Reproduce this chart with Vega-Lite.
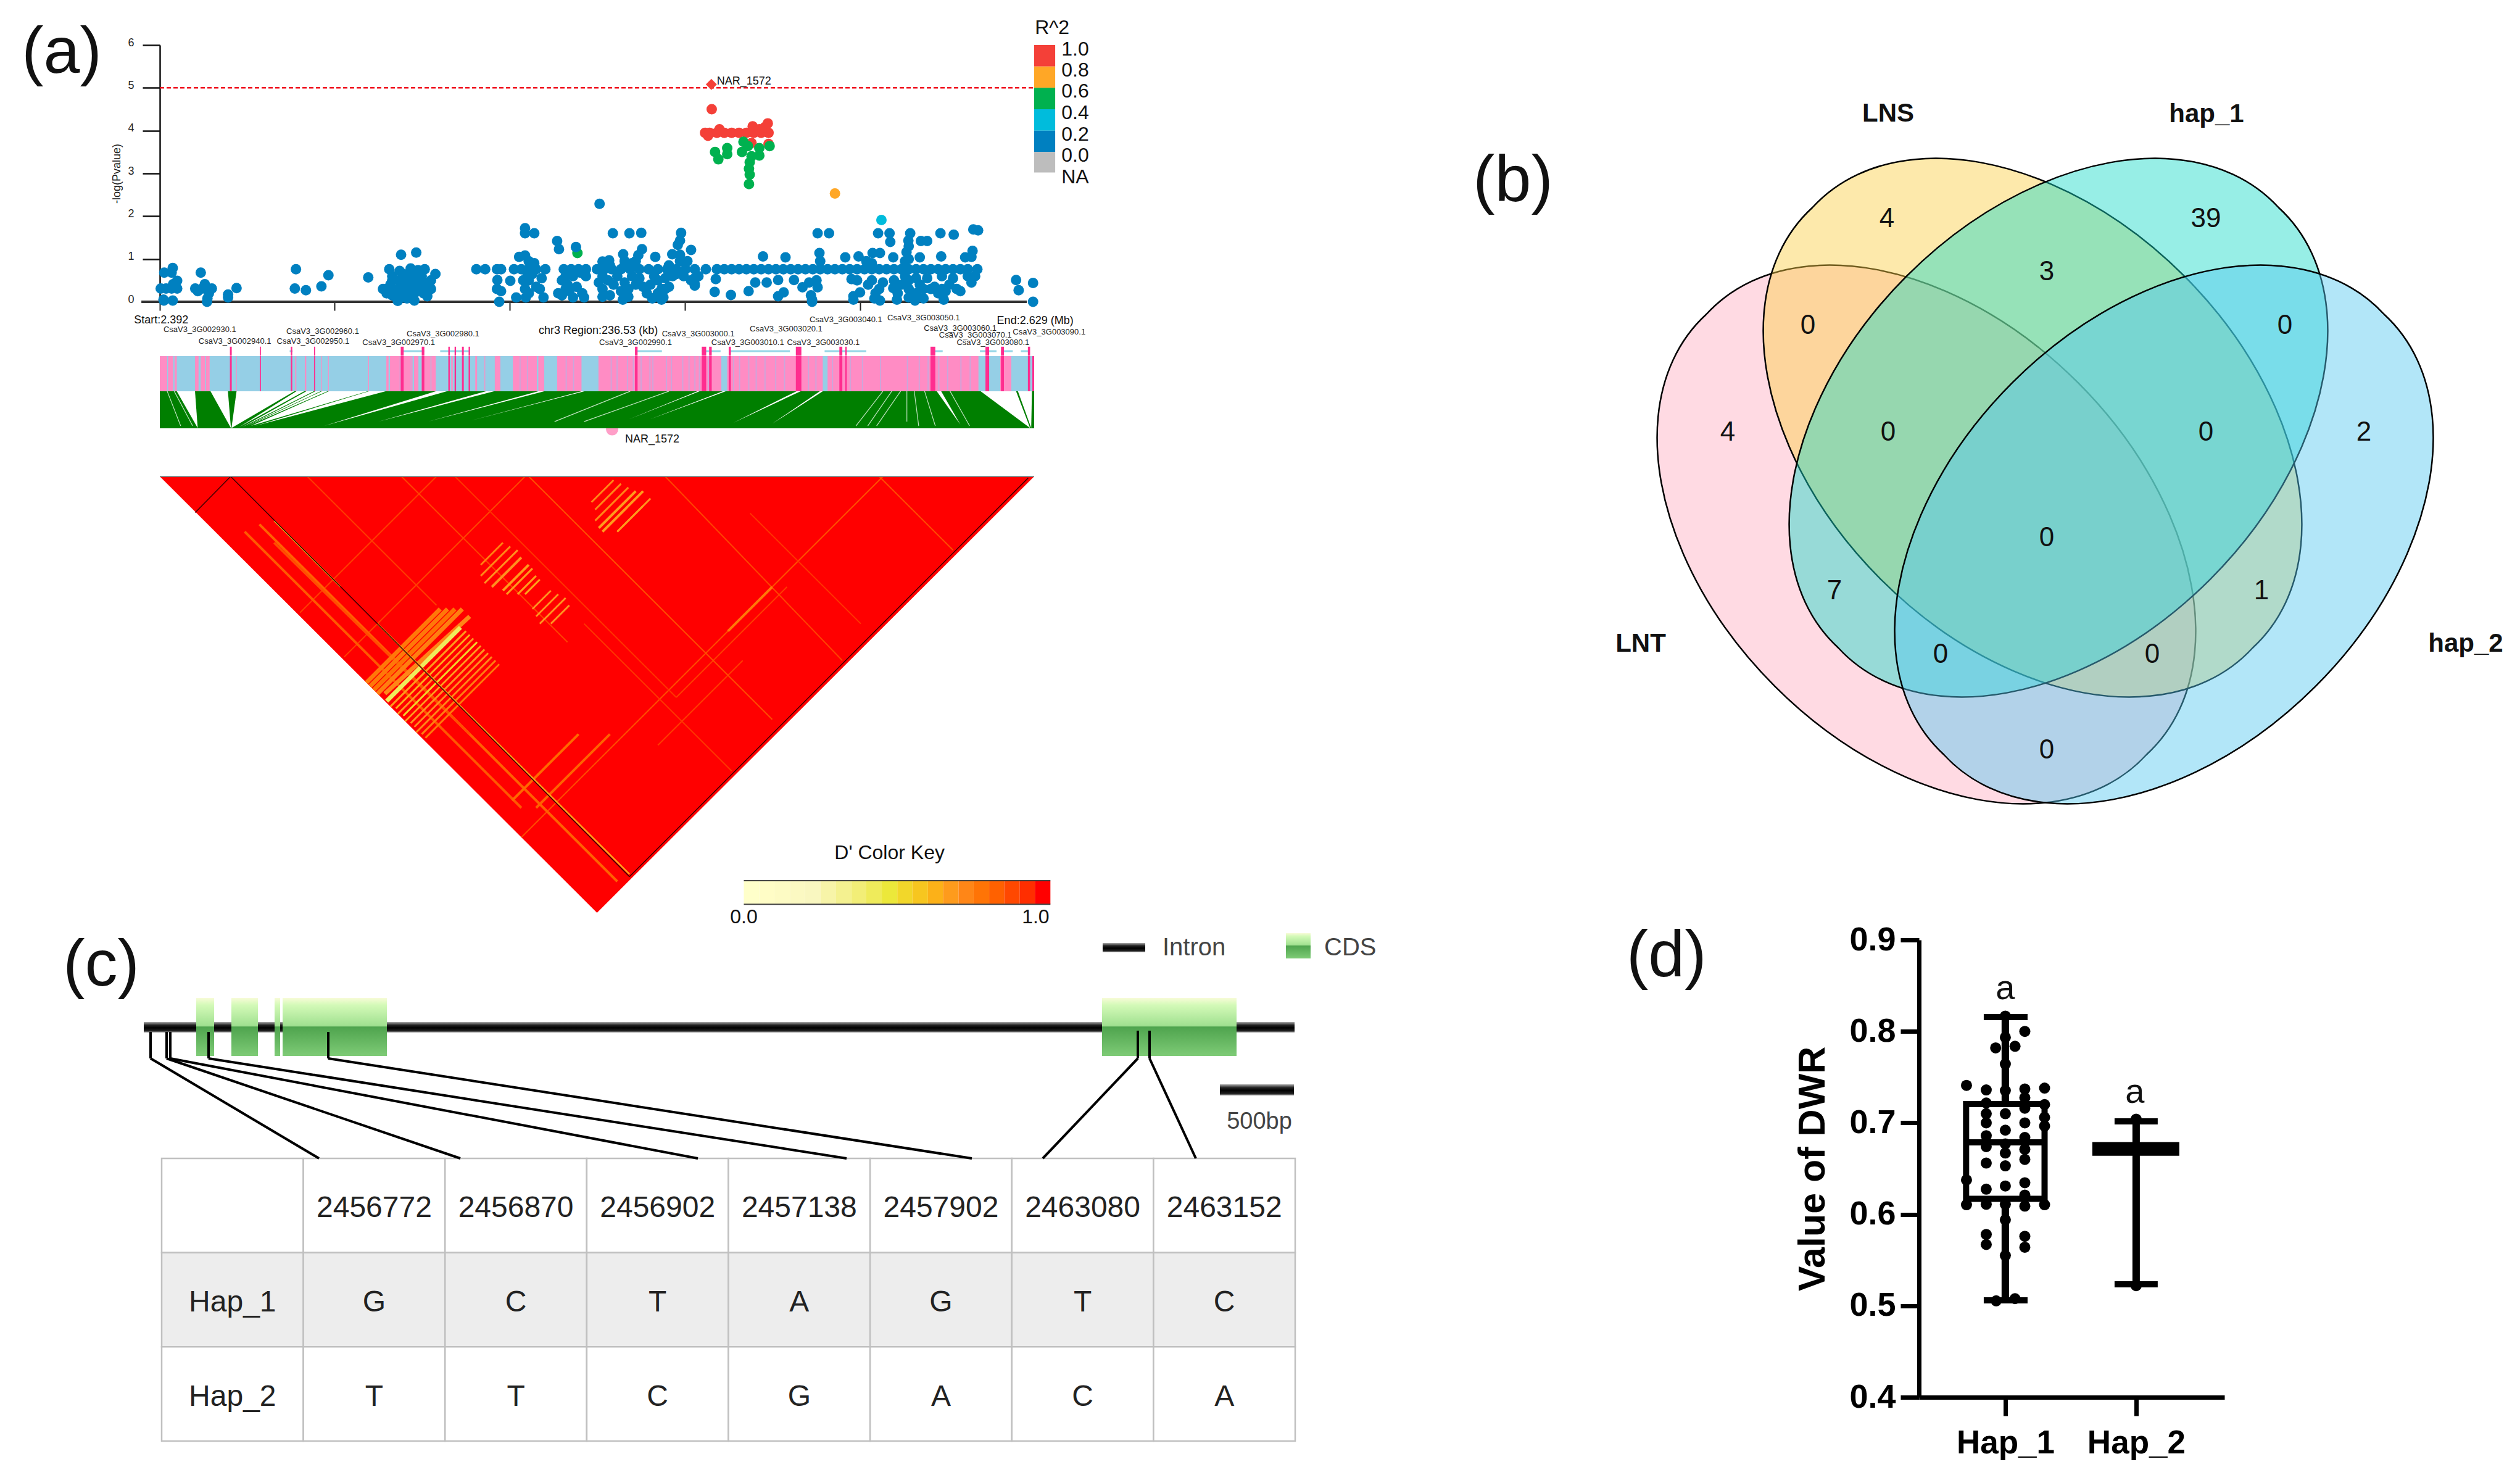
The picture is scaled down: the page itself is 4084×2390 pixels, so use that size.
{
"$schema":"https://vega.github.io/schema/vega-lite/v6.json",
"width":4084,"height":2390,"padding":0,"autosize":{"type":"none"},"background":"white",
"config":{"view":{"stroke":null},"text":{"font":"Liberation Sans"},"axis":{"grid":false,"labelFont":"Liberation Sans","titleFont":"Liberation Sans"}},
"resolve":{"scale":{"x":"independent","y":"independent","fill":"independent","color":"independent","shape":"independent"},"axis":{"x":"independent","y":"independent"}},
"layer":[
{"encoding":{
"x":{"field":"pos","type":"quantitative","title":null,"scale":{"domain":[0,237],"range":[259,1676],"nice":false,"zero":false},"axis":{"orient":"bottom","offset":-1901,"values":[0,47.4,94.9,142.3,189.8],"labels":false,"domain":false,"tickSize":14,"tickWidth":2,"tickColor":"#222"}},
"y":{"field":"logp","type":"quantitative","title":"-log(Pvalue)","scale":{"domain":[0,6],"range":[489,73],"nice":false,"zero":false},"axis":{"orient":"left","offset":-259,"values":[0,1,2,3,4,5,6],"format":"d","tickSize":28,"tickWidth":2.5,"tickColor":"#111","domainWidth":2.5,"domainColor":"#111","labelFontSize":18,"labelPadding":14,"labelColor":"#222","labelOffset":-4,"titleFontSize":18,"titleFontWeight":"normal","titleColor":"#222","titlePadding":8}}},
"layer":[
{"mark":{"type":"rule","stroke":"#333","strokeWidth":4},"data":{"values":[{"pos":-5,"pos2":235,"logp":0}]},"encoding":{"x2":{"field":"pos2"}}},
{"mark":{"type":"rule","stroke":"#f01020","strokeWidth":2.5,"strokeDash":[7,4]},"data":{"values":[{"pos":0,"pos2":237,"logp":5}]},"encoding":{"x2":{"field":"pos2"}}},
{"mark":{"type":"circle","size":289,"opacity":1},"data":{"values":[
{"pos":113.2,"logp":1.14,"r2":0.5},
{"pos":1.2,"logp":0.68,"r2":0.1},{"pos":3.5,"logp":0.79,"r2":0.1},{"pos":3.2,"logp":0.68,"r2":0.1},{"pos":4.7,"logp":0.49,"r2":0.1},{"pos":3.6,"logp":0.41,"r2":0.1},{"pos":0.25,"logp":0.31,"r2":0.1},{"pos":1.7,"logp":0.31,"r2":0.1},{"pos":3.2,"logp":0.31,"r2":0.1},{"pos":4.7,"logp":0.31,"r2":0.1},{"pos":1.1,"logp":0.03,"r2":0.1},{"pos":3.5,"logp":0.03,"r2":0.1},{"pos":1,"logp":0.05,"r2":0.1},{"pos":11.1,"logp":0.68,"r2":0.1},{"pos":9.6,"logp":0.31,"r2":0.1},{"pos":10.3,"logp":0.25,"r2":0.1},{"pos":12.2,"logp":0.41,"r2":0.1},{"pos":14.1,"logp":0.31,"r2":0.1},{"pos":12.9,"logp":0.08,"r2":0.1},{"pos":12.8,"logp":0,"r2":0.1},{"pos":13.3,"logp":0.2,"r2":0.1},{"pos":18.5,"logp":0.17,"r2":0.1},{"pos":18.5,"logp":0.1,"r2":0.1},{"pos":20.8,"logp":0.32,"r2":0.1},{"pos":11.5,"logp":0.31,"r2":0.1},
{"pos":36.9,"logp":0.76,"r2":0.1},{"pos":36.6,"logp":0.31,"r2":0.1},{"pos":39.6,"logp":0.27,"r2":0.1},{"pos":43.8,"logp":0.36,"r2":0.1},{"pos":45.7,"logp":0.62,"r2":0.1},{"pos":56.5,"logp":0.57,"r2":0.1},
{"pos":65.4,"logp":1.1,"r2":0.1},{"pos":69.5,"logp":1.15,"r2":0.1},{"pos":62.2,"logp":0.76,"r2":0.1},{"pos":71.8,"logp":0.76,"r2":0.1},{"pos":74.7,"logp":0.65,"r2":0.1},{"pos":65,"logp":0.72,"r2":0.1},{"pos":68,"logp":0.78,"r2":0.1},{"pos":70,"logp":0.74,"r2":0.1},{"pos":63,"logp":0.6,"r2":0.1},{"pos":66,"logp":0.65,"r2":0.1},{"pos":68.5,"logp":0.65,"r2":0.1},{"pos":71,"logp":0.6,"r2":0.1},{"pos":63,"logp":0.5,"r2":0.1},{"pos":65,"logp":0.5,"r2":0.1},{"pos":67,"logp":0.5,"r2":0.1},{"pos":69,"logp":0.5,"r2":0.1},{"pos":71,"logp":0.52,"r2":0.1},{"pos":73.5,"logp":0.5,"r2":0.1},{"pos":60.5,"logp":0.3,"r2":0.1},{"pos":61.5,"logp":0.3,"r2":0.1},{"pos":63,"logp":0.3,"r2":0.1},{"pos":64.5,"logp":0.3,"r2":0.1},{"pos":66,"logp":0.3,"r2":0.1},{"pos":68,"logp":0.3,"r2":0.1},{"pos":70,"logp":0.3,"r2":0.1},{"pos":72,"logp":0.3,"r2":0.1},{"pos":73.5,"logp":0.3,"r2":0.1},{"pos":61.5,"logp":0.2,"r2":0.1},{"pos":63,"logp":0.15,"r2":0.1},{"pos":65,"logp":0.2,"r2":0.1},{"pos":67,"logp":0.18,"r2":0.1},{"pos":69,"logp":0.2,"r2":0.1},{"pos":71.5,"logp":0.2,"r2":0.1},{"pos":72.5,"logp":0.13,"r2":0.1},{"pos":64.5,"logp":0.02,"r2":0.1},{"pos":67,"logp":0.08,"r2":0.1},{"pos":69,"logp":0.03,"r2":0.1},{"pos":66,"logp":0.1,"r2":0.1},{"pos":73,"logp":0.4,"r2":0.1},{"pos":62.5,"logp":0.4,"r2":0.1},{"pos":66,"logp":0.4,"r2":0.1},{"pos":68.5,"logp":0.4,"r2":0.1},{"pos":70.5,"logp":0.4,"r2":0.1},
{"pos":85.8,"logp":0.76,"r2":0.1},{"pos":88.2,"logp":0.76,"r2":0.1},{"pos":91.4,"logp":0.76,"r2":0.1},{"pos":92.5,"logp":0.76,"r2":0.1},{"pos":91.5,"logp":0.51,"r2":0.1},{"pos":91.4,"logp":0.3,"r2":0.1},{"pos":92.5,"logp":0.25,"r2":0.1},{"pos":92,"logp":0,"r2":0.1},{"pos":95,"logp":0.49,"r2":0.1},
{"pos":99,"logp":1.72,"r2":0.1},{"pos":99,"logp":1.6,"r2":0.1},{"pos":97.4,"logp":1.05,"r2":0.1},{"pos":99,"logp":1.08,"r2":0.1},{"pos":101.5,"logp":1.6,"r2":0.1},{"pos":96.6,"logp":0.1,"r2":0.1},{"pos":99.2,"logp":0.1,"r2":0.1},{"pos":99,"logp":0.3,"r2":0.1},{"pos":98.5,"logp":0.5,"r2":0.1},{"pos":100,"logp":0.2,"r2":0.1},{"pos":100,"logp":0.5,"r2":0.1},{"pos":101,"logp":0.65,"r2":0.1},{"pos":102,"logp":0.35,"r2":0.1},{"pos":103,"logp":0.3,"r2":0.1},{"pos":103.5,"logp":0.55,"r2":0.1},{"pos":104,"logp":0.1,"r2":0.1},{"pos":101.5,"logp":0.9,"r2":0.1},{"pos":100,"logp":0.95,"r2":0.1},{"pos":99.5,"logp":0.7,"r2":0.1},
{"pos":107.7,"logp":1.42,"r2":0.1},{"pos":108.2,"logp":1.23,"r2":0.1},{"pos":112.8,"logp":1.28,"r2":0.1},{"pos":109,"logp":0.5,"r2":0.1},{"pos":110,"logp":0.3,"r2":0.1},{"pos":108,"logp":0.2,"r2":0.1},{"pos":109,"logp":0.15,"r2":0.1},{"pos":111,"logp":0.25,"r2":0.1},{"pos":112,"logp":0.1,"r2":0.1},{"pos":110.5,"logp":0.4,"r2":0.1},{"pos":113,"logp":0.35,"r2":0.1},{"pos":114.5,"logp":0.2,"r2":0.1},{"pos":115,"logp":0.1,"r2":0.1},{"pos":115.5,"logp":0.6,"r2":0.1},{"pos":114,"logp":0.68,"r2":0.1},{"pos":112,"logp":0.6,"r2":0.1},{"pos":110,"logp":0.6,"r2":0.1},
{"pos":119.2,"logp":2.29,"r2":0.1},{"pos":122.8,"logp":1.6,"r2":0.1},{"pos":127.3,"logp":1.6,"r2":0.1},{"pos":130.5,"logp":1.61,"r2":0.1},{"pos":141.3,"logp":1.61,"r2":0.1},{"pos":141,"logp":1.43,"r2":0.1},{"pos":140.4,"logp":1.33,"r2":0.1},{"pos":144,"logp":1.21,"r2":0.1},{"pos":130.7,"logp":1.23,"r2":0.1},{"pos":125.6,"logp":1.11,"r2":0.1},{"pos":120,"logp":0.94,"r2":0.1},{"pos":121.8,"logp":0.97,"r2":0.1},{"pos":134.3,"logp":1.05,"r2":0.1},{"pos":138.9,"logp":1.11,"r2":0.1},{"pos":129.7,"logp":1.09,"r2":0.1},{"pos":126,"logp":0.95,"r2":0.1},{"pos":128,"logp":0.9,"r2":0.1},{"pos":126,"logp":0.85,"r2":0.1},{"pos":120,"logp":0.6,"r2":0.1},{"pos":122,"logp":0.85,"r2":0.1},{"pos":129,"logp":0.95,"r2":0.1},{"pos":141,"logp":1.1,"r2":0.1},{"pos":141,"logp":0.95,"r2":0.1},{"pos":143,"logp":0.95,"r2":0.1},{"pos":138,"logp":0.85,"r2":0.1},
{"pos":119,"logp":0.45,"r2":0.1},{"pos":120,"logp":0.3,"r2":0.1},{"pos":120,"logp":0.12,"r2":0.1},{"pos":122,"logp":0.15,"r2":0.1},{"pos":121.5,"logp":0.5,"r2":0.1},{"pos":123,"logp":0.4,"r2":0.1},{"pos":124,"logp":0.6,"r2":0.1},{"pos":125,"logp":0.25,"r2":0.1},{"pos":125.5,"logp":0.05,"r2":0.1},{"pos":126,"logp":0.45,"r2":0.1},{"pos":127,"logp":0.3,"r2":0.1},{"pos":127,"logp":0.12,"r2":0.1},{"pos":128,"logp":0.6,"r2":0.1},{"pos":129,"logp":0.4,"r2":0.1},{"pos":130,"logp":0.55,"r2":0.1},{"pos":131,"logp":0.35,"r2":0.1},{"pos":132,"logp":0.2,"r2":0.1},{"pos":133,"logp":0.4,"r2":0.1},{"pos":133.5,"logp":0.08,"r2":0.1},{"pos":134,"logp":0.6,"r2":0.1},{"pos":135,"logp":0.5,"r2":0.1},{"pos":135,"logp":0.2,"r2":0.1},{"pos":136,"logp":0.3,"r2":0.1},{"pos":136,"logp":0.05,"r2":0.1},{"pos":136.5,"logp":0.1,"r2":0.1},{"pos":137,"logp":0.55,"r2":0.1},{"pos":137,"logp":0.3,"r2":0.1},{"pos":138,"logp":0.35,"r2":0.1},{"pos":139,"logp":0.6,"r2":0.1},{"pos":140,"logp":0.65,"r2":0.1},{"pos":142,"logp":0.6,"r2":0.1},{"pos":144,"logp":0.5,"r2":0.1},{"pos":145,"logp":0.55,"r2":0.1},{"pos":146,"logp":0.6,"r2":0.1},{"pos":145,"logp":0.42,"r2":0.1},{"pos":145,"logp":0.38,"r2":0.1},
{"pos":150.7,"logp":0.53,"r2":0.1},{"pos":150.4,"logp":0.23,"r2":0.1},{"pos":154.8,"logp":0.16,"r2":0.1},{"pos":159.6,"logp":0.25,"r2":0.1},{"pos":161.4,"logp":0.45,"r2":0.1},{"pos":164.5,"logp":0.45,"r2":0.1},{"pos":167.6,"logp":0.51,"r2":0.1},{"pos":167.6,"logp":0.13,"r2":0.1},{"pos":169.1,"logp":0.22,"r2":0.1},{"pos":171.9,"logp":0.51,"r2":0.1},{"pos":174.2,"logp":0.34,"r2":0.1},{"pos":178.3,"logp":0.34,"r2":0.1},{"pos":176.8,"logp":0.05,"r2":0.1},{"pos":176.8,"logp":0,"r2":0.1},{"pos":176.5,"logp":0.15,"r2":0.1},{"pos":176,"logp":0.45,"r2":0.1},{"pos":178,"logp":0.5,"r2":0.1},
{"pos":163.5,"logp":1.06,"r2":0.1},{"pos":169.6,"logp":1.04,"r2":0.1},{"pos":178.3,"logp":1.6,"r2":0.1},{"pos":181.4,"logp":1.6,"r2":0.1},{"pos":178.8,"logp":1.14,"r2":0.1},{"pos":179,"logp":0.95,"r2":0.1},{"pos":185.8,"logp":1.04,"r2":0.1},{"pos":189.4,"logp":1.06,"r2":0.1},{"pos":193.2,"logp":1.14,"r2":0.1},{"pos":195.2,"logp":1.14,"r2":0.1},{"pos":198.8,"logp":1.04,"r2":0.1},{"pos":194.7,"logp":1.6,"r2":0.1},{"pos":197.8,"logp":1.6,"r2":0.1},{"pos":198,"logp":1.4,"r2":0.1},{"pos":203.4,"logp":1.6,"r2":0.1},{"pos":202.9,"logp":1.43,"r2":0.1},{"pos":202.4,"logp":1.16,"r2":0.1},{"pos":206.3,"logp":1.42,"r2":0.1},{"pos":208,"logp":1.42,"r2":0.1},{"pos":211.6,"logp":1.6,"r2":0.1},{"pos":215.2,"logp":1.57,"r2":0.1},{"pos":220.5,"logp":1.69,"r2":0.1},{"pos":221.8,"logp":1.67,"r2":0.1},{"pos":206,"logp":1.04,"r2":0.1},{"pos":211.8,"logp":1.06,"r2":0.1},{"pos":220.3,"logp":1.19,"r2":0.1},{"pos":218.3,"logp":1.04,"r2":0.1},{"pos":220,"logp":1.05,"r2":0.1},{"pos":203,"logp":1.3,"r2":0.1},{"pos":203,"logp":1,"r2":0.1},{"pos":202,"logp":0.95,"r2":0.1},{"pos":191.5,"logp":0.95,"r2":0.1},{"pos":193,"logp":0.9,"r2":0.1},
{"pos":188,"logp":0.13,"r2":0.1},{"pos":189.8,"logp":0.22,"r2":0.1},{"pos":187.5,"logp":0.53,"r2":0.1},{"pos":189,"logp":0.5,"r2":0.1},{"pos":188,"logp":0.05,"r2":0.1},{"pos":193,"logp":0.5,"r2":0.1},{"pos":193.7,"logp":0.08,"r2":0.1},{"pos":195.2,"logp":0.03,"r2":0.1},{"pos":195,"logp":0.3,"r2":0.1},{"pos":192,"logp":0.4,"r2":0.1},{"pos":194,"logp":0.2,"r2":0.1},{"pos":196,"logp":0.45,"r2":0.1},{"pos":198.8,"logp":0.32,"r2":0.1},{"pos":199.8,"logp":0.05,"r2":0.1},{"pos":199,"logp":0.5,"r2":0.1},{"pos":200,"logp":0.2,"r2":0.1},{"pos":201,"logp":0.4,"r2":0.1},{"pos":202,"logp":0.6,"r2":0.1},{"pos":203,"logp":0.5,"r2":0.1},{"pos":203,"logp":0.3,"r2":0.1},{"pos":203,"logp":0.1,"r2":0.1},{"pos":204.7,"logp":0.03,"r2":0.1},{"pos":205,"logp":0.2,"r2":0.1},{"pos":205,"logp":0.55,"r2":0.1},{"pos":206,"logp":0.4,"r2":0.1},{"pos":207,"logp":0.08,"r2":0.1},{"pos":207,"logp":0.3,"r2":0.1},{"pos":208,"logp":0.55,"r2":0.1},{"pos":209,"logp":0.3,"r2":0.1},{"pos":210,"logp":0.35,"r2":0.1},{"pos":211,"logp":0.2,"r2":0.1},{"pos":212,"logp":0.3,"r2":0.1},{"pos":213,"logp":0.25,"r2":0.1},{"pos":212.5,"logp":0.05,"r2":0.1},{"pos":212,"logp":0.6,"r2":0.1},{"pos":215,"logp":0.55,"r2":0.1},{"pos":216,"logp":0.3,"r2":0.1},{"pos":217,"logp":0.25,"r2":0.1},{"pos":214,"logp":0.4,"r2":0.1},{"pos":220,"logp":0.45,"r2":0.1},{"pos":219,"logp":0.6,"r2":0.1},{"pos":221,"logp":0.6,"r2":0.1},{"pos":232.1,"logp":0.51,"r2":0.1},{"pos":232.8,"logp":0.27,"r2":0.1},{"pos":236.7,"logp":0.44,"r2":0.1},{"pos":236.7,"logp":0,"r2":0.1},
{"pos":96,"logp":0.76,"r2":0.1},{"pos":98,"logp":0.76,"r2":0.1},{"pos":100,"logp":0.76,"r2":0.1},{"pos":102,"logp":0.76,"r2":0.1},{"pos":104.5,"logp":0.76,"r2":0.1},{"pos":109.5,"logp":0.76,"r2":0.1},{"pos":111.5,"logp":0.76,"r2":0.1},{"pos":113.5,"logp":0.76,"r2":0.1},{"pos":115.5,"logp":0.76,"r2":0.1},{"pos":118.5,"logp":0.76,"r2":0.1},{"pos":120.5,"logp":0.76,"r2":0.1},{"pos":122.5,"logp":0.76,"r2":0.1},{"pos":125,"logp":0.76,"r2":0.1},{"pos":127.5,"logp":0.76,"r2":0.1},{"pos":130,"logp":0.76,"r2":0.1},{"pos":132.5,"logp":0.76,"r2":0.1},{"pos":135,"logp":0.76,"r2":0.1},{"pos":137.5,"logp":0.76,"r2":0.1},{"pos":140,"logp":0.76,"r2":0.1},{"pos":142.5,"logp":0.76,"r2":0.1},{"pos":145,"logp":0.76,"r2":0.1},{"pos":148,"logp":0.76,"r2":0.1},{"pos":151,"logp":0.76,"r2":0.1},{"pos":153,"logp":0.76,"r2":0.1},{"pos":155,"logp":0.76,"r2":0.1},{"pos":157,"logp":0.76,"r2":0.1},{"pos":159,"logp":0.76,"r2":0.1},{"pos":161,"logp":0.76,"r2":0.1},{"pos":163,"logp":0.76,"r2":0.1},{"pos":165,"logp":0.76,"r2":0.1},{"pos":167,"logp":0.76,"r2":0.1},{"pos":169,"logp":0.76,"r2":0.1},{"pos":171,"logp":0.76,"r2":0.1},{"pos":173,"logp":0.76,"r2":0.1},{"pos":175,"logp":0.76,"r2":0.1},{"pos":177,"logp":0.76,"r2":0.1},{"pos":179,"logp":0.76,"r2":0.1},{"pos":181,"logp":0.76,"r2":0.1},{"pos":183,"logp":0.76,"r2":0.1},{"pos":185,"logp":0.76,"r2":0.1},{"pos":187,"logp":0.76,"r2":0.1},{"pos":189,"logp":0.76,"r2":0.1},{"pos":191,"logp":0.76,"r2":0.1},{"pos":193,"logp":0.76,"r2":0.1},{"pos":195,"logp":0.76,"r2":0.1},{"pos":197,"logp":0.76,"r2":0.1},{"pos":199,"logp":0.76,"r2":0.1},{"pos":201,"logp":0.76,"r2":0.1},{"pos":203,"logp":0.76,"r2":0.1},{"pos":205,"logp":0.76,"r2":0.1},{"pos":207,"logp":0.76,"r2":0.1},{"pos":209,"logp":0.76,"r2":0.1},{"pos":211,"logp":0.76,"r2":0.1},{"pos":213,"logp":0.76,"r2":0.1},{"pos":215,"logp":0.76,"r2":0.1},{"pos":217,"logp":0.76,"r2":0.1},{"pos":219,"logp":0.76,"r2":0.1},{"pos":221.6,"logp":0.76,"r2":0.1},
{"pos":183,"logp":2.53,"r2":0.7},{"pos":195.6,"logp":1.91,"r2":0.3},
{"pos":149.6,"logp":4.5,"r2":0.9},{"pos":147.8,"logp":3.95,"r2":0.9},{"pos":149,"logp":3.95,"r2":0.9},{"pos":151,"logp":3.95,"r2":0.9},{"pos":153,"logp":3.95,"r2":0.9},{"pos":155,"logp":3.95,"r2":0.9},{"pos":157,"logp":3.95,"r2":0.9},{"pos":159,"logp":3.95,"r2":0.9},{"pos":161,"logp":3.95,"r2":0.9},{"pos":163,"logp":3.95,"r2":0.9},{"pos":165,"logp":3.95,"r2":0.9},{"pos":148.6,"logp":3.88,"r2":0.9},{"pos":151.7,"logp":4.03,"r2":0.9},{"pos":160.7,"logp":4.1,"r2":0.9},{"pos":162.5,"logp":4.03,"r2":0.9},{"pos":164,"logp":4.08,"r2":0.9},{"pos":164.8,"logp":4.17,"r2":0.9},{"pos":160.4,"logp":3.71,"r2":0.9},{"pos":165,"logp":3.69,"r2":0.9},
{"pos":158.2,"logp":3.74,"r2":0.5},{"pos":165.3,"logp":3.64,"r2":0.5},{"pos":150.5,"logp":3.5,"r2":0.5},{"pos":153.8,"logp":3.59,"r2":0.5},{"pos":151.4,"logp":3.33,"r2":0.5},{"pos":153.8,"logp":3.45,"r2":0.5},{"pos":157.8,"logp":3.5,"r2":0.5},{"pos":159.4,"logp":3.64,"r2":0.5},{"pos":162.5,"logp":3.59,"r2":0.5},{"pos":162.5,"logp":3.42,"r2":0.5},{"pos":160.4,"logp":3.4,"r2":0.5},{"pos":159.9,"logp":3.26,"r2":0.5},{"pos":159.7,"logp":3.11,"r2":0.5},{"pos":159.9,"logp":2.97,"r2":0.5},{"pos":159.7,"logp":2.75,"r2":0.5}
]},"encoding":{"color":{"field":"r2","type":"nominal","legend":null,"scale":{"domain":[0.9,0.7,0.5,0.3,0.1,"NA"],"range":["#f44038","#ffa726","#00b14f","#00bcdc","#0080c0","#bdbdbd"]}}}},
{"mark":{"type":"point","shape":"diamond","filled":true,"size":320,"color":"#f44038","opacity":1},"data":{"values":[{"pos":149.5,"logp":5.08}]}},
{"mark":{"type":"rect"},"data":{"values":[{"pos":237,"pos2":242.7,"logp":6,"logp2":5.5,"r2":0.9},{"pos":237,"pos2":242.7,"logp":5.5,"logp2":5,"r2":0.7},{"pos":237,"pos2":242.7,"logp":5,"logp2":4.5,"r2":0.5},{"pos":237,"pos2":242.7,"logp":4.5,"logp2":4,"r2":0.3},{"pos":237,"pos2":242.7,"logp":4,"logp2":3.5,"r2":0.1},{"pos":237,"pos2":242.7,"logp":3.5,"logp2":3.02,"r2":"NA"}]},"encoding":{"x2":{"field":"pos2"},"y2":{"field":"logp2"},"color":{"field":"r2","type":"nominal","legend":null,"scale":{"domain":[0.9,0.7,0.5,0.3,0.1,"NA"],"range":["#f44038","#ffa726","#00b14f","#00bcdc","#0080c0","#bdbdbd"]}}}},
{"mark":{"type":"text","fontSize":32,"align":"left","baseline":"middle","color":"#111"},"data":{"values":[{"pos":244.4,"logp":5.9,"t":"1.0"},{"pos":244.4,"logp":5.41,"t":"0.8"},{"pos":244.4,"logp":4.92,"t":"0.6"},{"pos":244.4,"logp":4.41,"t":"0.4"},{"pos":244.4,"logp":3.91,"t":"0.2"},{"pos":244.4,"logp":3.42,"t":"0.0"},{"pos":244.4,"logp":2.91,"t":"NA"},{"pos":237.2,"logp":6.4,"t":"R^2"}]},"encoding":{"text":{"field":"t"}}},
{"mark":{"type":"circle","size":400,"color":"#ff9fc8","opacity":1},"data":{"values":[{"pos":122.6,"logp":-2.98}]}},
{"mark":{"type":"rect","color":"#95cfe6"},"data":{"values":[{"pos":0,"pos2":237,"logp":-1.27,"logp2":-2.09}]},"encoding":{"x2":{"field":"pos2"},"y2":{"field":"logp2"}}},
{"mark":{"type":"rect","color":"#ff8cc4"},"data":{"values":[{"pos":0,"pos2":2,"logp":-1.27,"logp2":-2.09},{"pos":2.24,"pos2":3.62,"logp":-1.27,"logp2":-2.09},{"pos":4,"pos2":4.6,"logp":-1.27,"logp2":-2.09},{"pos":9.54,"pos2":10.5,"logp":-1.27,"logp2":-2.09},{"pos":11.08,"pos2":12.3,"logp":-1.27,"logp2":-2.09},{"pos":12.54,"pos2":13.5,"logp":-1.27,"logp2":-2.09},{"pos":20.65,"pos2":20.85,"logp":-1.27,"logp2":-2.09},{"pos":36.7,"pos2":37,"logp":-1.27,"logp2":-2.09},{"pos":39.3,"pos2":39.7,"logp":-1.27,"logp2":-2.09},{"pos":43.8,"pos2":44,"logp":-1.27,"logp2":-2.09},{"pos":45.6,"pos2":45.8,"logp":-1.27,"logp2":-2.09},{"pos":56.5,"pos2":56.7,"logp":-1.27,"logp2":-2.09},{"pos":61.4,"pos2":62,"logp":-1.27,"logp2":-2.09},{"pos":62.4,"pos2":68.5,"logp":-1.27,"logp2":-2.09},{"pos":68.9,"pos2":70.1,"logp":-1.27,"logp2":-2.09},{"pos":71,"pos2":73.4,"logp":-1.27,"logp2":-2.09},{"pos":73.6,"pos2":74.8,"logp":-1.27,"logp2":-2.09},{"pos":79,"pos2":79.4,"logp":-1.27,"logp2":-2.09},{"pos":85.5,"pos2":86,"logp":-1.27,"logp2":-2.09},{"pos":88,"pos2":88.2,"logp":-1.27,"logp2":-2.09},{"pos":90.8,"pos2":92.3,"logp":-1.27,"logp2":-2.09},{"pos":95.7,"pos2":102.2,"logp":-1.27,"logp2":-2.09},{"pos":102.6,"pos2":104.2,"logp":-1.27,"logp2":-2.09},{"pos":107.7,"pos2":114.3,"logp":-1.27,"logp2":-2.09},{"pos":118.9,"pos2":152.2,"logp":-1.27,"logp2":-2.09},{"pos":153.8,"pos2":179.7,"logp":-1.27,"logp2":-2.09},{"pos":181,"pos2":221.9,"logp":-1.27,"logp2":-2.09},{"pos":227.8,"pos2":230.8,"logp":-1.27,"logp2":-2.09}]},"encoding":{"x2":{"field":"pos2"},"y2":{"field":"logp2"}}},
{"mark":{"type":"rect","color":"#c9a8dc"},"data":{"values":[{"pos":122.2,"pos2":122.5,"logp":-1.27,"logp2":-2.09},{"pos":123.8,"pos2":124.1,"logp":-1.27,"logp2":-2.09},{"pos":126.6,"pos2":126.9,"logp":-1.27,"logp2":-2.09},{"pos":128.2,"pos2":128.5,"logp":-1.27,"logp2":-2.09},{"pos":130.3,"pos2":130.6,"logp":-1.27,"logp2":-2.09},{"pos":132.7,"pos2":133,"logp":-1.27,"logp2":-2.09},{"pos":133.5,"pos2":133.8,"logp":-1.27,"logp2":-2.09},{"pos":137.2,"pos2":137.5,"logp":-1.27,"logp2":-2.09},{"pos":138.5,"pos2":138.8,"logp":-1.27,"logp2":-2.09},{"pos":141.6,"pos2":141.9,"logp":-1.27,"logp2":-2.09},{"pos":143.3,"pos2":143.6,"logp":-1.27,"logp2":-2.09},{"pos":144.9,"pos2":145.2,"logp":-1.27,"logp2":-2.09},{"pos":146.1,"pos2":146.4,"logp":-1.27,"logp2":-2.09},{"pos":148.5,"pos2":148.8,"logp":-1.27,"logp2":-2.09},{"pos":155.4,"pos2":155.7,"logp":-1.27,"logp2":-2.09},{"pos":157,"pos2":157.3,"logp":-1.27,"logp2":-2.09},{"pos":159.5,"pos2":159.8,"logp":-1.27,"logp2":-2.09},{"pos":161.5,"pos2":161.8,"logp":-1.27,"logp2":-2.09},{"pos":163.9,"pos2":164.2,"logp":-1.27,"logp2":-2.09},{"pos":166.8,"pos2":167.1,"logp":-1.27,"logp2":-2.09},{"pos":169.2,"pos2":169.5,"logp":-1.27,"logp2":-2.09},{"pos":175.7,"pos2":176,"logp":-1.27,"logp2":-2.09},{"pos":177.7,"pos2":178,"logp":-1.27,"logp2":-2.09},{"pos":182.2,"pos2":182.5,"logp":-1.27,"logp2":-2.09},{"pos":187,"pos2":187.3,"logp":-1.27,"logp2":-2.09},{"pos":190.3,"pos2":190.6,"logp":-1.27,"logp2":-2.09},{"pos":195.2,"pos2":195.5,"logp":-1.27,"logp2":-2.09},{"pos":202.5,"pos2":202.8,"logp":-1.27,"logp2":-2.09},{"pos":205.7,"pos2":206,"logp":-1.27,"logp2":-2.09},{"pos":208.1,"pos2":208.4,"logp":-1.27,"logp2":-2.09},{"pos":211,"pos2":211.3,"logp":-1.27,"logp2":-2.09},{"pos":213.4,"pos2":213.7,"logp":-1.27,"logp2":-2.09},{"pos":217,"pos2":217.3,"logp":-1.27,"logp2":-2.09},{"pos":219.5,"pos2":219.8,"logp":-1.27,"logp2":-2.09},{"pos":97.5,"pos2":97.8,"logp":-1.27,"logp2":-2.09},{"pos":99.5,"pos2":99.8,"logp":-1.27,"logp2":-2.09},{"pos":110,"pos2":110.3,"logp":-1.27,"logp2":-2.09},{"pos":112,"pos2":112.3,"logp":-1.27,"logp2":-2.09},{"pos":65,"pos2":65.2,"logp":-1.27,"logp2":-2.09},{"pos":68,"pos2":68.2,"logp":-1.27,"logp2":-2.09}]},"encoding":{"x2":{"field":"pos2"},"y2":{"field":"logp2"}}},
{"mark":{"type":"rect","color":"#ff2d8f"},"data":{"values":[{"pos":19,"pos2":19.5,"logp":-1.27,"logp2":-2.09},{"pos":27.1,"pos2":27.4,"logp":-1.27,"logp2":-2.09},{"pos":35.5,"pos2":35.9,"logp":-1.27,"logp2":-2.09},{"pos":41.8,"pos2":42.1,"logp":-1.27,"logp2":-2.09},{"pos":65.3,"pos2":66.1,"logp":-1.27,"logp2":-2.09},{"pos":71,"pos2":71.7,"logp":-1.27,"logp2":-2.09},{"pos":78.2,"pos2":78.6,"logp":-1.27,"logp2":-2.09},{"pos":79.9,"pos2":80.3,"logp":-1.27,"logp2":-2.09},{"pos":81.9,"pos2":82.4,"logp":-1.27,"logp2":-2.09},{"pos":83.7,"pos2":84.1,"logp":-1.27,"logp2":-2.09},{"pos":128.8,"pos2":129.5,"logp":-1.27,"logp2":-2.09},{"pos":146.9,"pos2":148.1,"logp":-1.27,"logp2":-2.09},{"pos":148.9,"pos2":149.6,"logp":-1.27,"logp2":-2.09},{"pos":154.2,"pos2":154.8,"logp":-1.27,"logp2":-2.09},{"pos":172.4,"pos2":173.9,"logp":-1.27,"logp2":-2.09},{"pos":184.2,"pos2":185,"logp":-1.27,"logp2":-2.09},{"pos":185.8,"pos2":186.2,"logp":-1.27,"logp2":-2.09},{"pos":208.9,"pos2":210.2,"logp":-1.27,"logp2":-2.09},{"pos":223.8,"pos2":224.8,"logp":-1.27,"logp2":-2.09},{"pos":228,"pos2":228.8,"logp":-1.27,"logp2":-2.09},{"pos":235.3,"pos2":235.9,"logp":-1.27,"logp2":-2.09},{"pos":236.5,"pos2":237,"logp":-1.27,"logp2":-2.09}]},"encoding":{"x2":{"field":"pos2"},"y2":{"field":"logp2"}}},
{"mark":{"type":"rule","color":"#95d5e6","strokeWidth":3},"data":{"values":[{"pos":35.2,"pos2":36,"logp":-1.154},{"pos":65.7,"pos2":71.7,"logp":-1.154},{"pos":76,"pos2":83.9,"logp":-1.154},{"pos":129,"pos2":136.1,"logp":-1.154},{"pos":146.9,"pos2":152,"logp":-1.154},{"pos":154.4,"pos2":170.8,"logp":-1.154},{"pos":180.2,"pos2":191.5,"logp":-1.154},{"pos":209,"pos2":212.2,"logp":-1.154},{"pos":222.3,"pos2":226.8,"logp":-1.154},{"pos":228.8,"pos2":231.2,"logp":-1.154},{"pos":233.4,"pos2":235.7,"logp":-1.154}]},"encoding":{"x2":{"field":"pos2"}}},
{"mark":{"type":"rect","color":"#ff2d8f"},"data":{"values":[{"pos":19,"pos2":19.5,"logp":-1.05,"logp2":-1.26},{"pos":27.1,"pos2":27.4,"logp":-1.05,"logp2":-1.26},{"pos":35.5,"pos2":35.9,"logp":-1.05,"logp2":-1.26},{"pos":41.8,"pos2":42.1,"logp":-1.05,"logp2":-1.26},{"pos":65.3,"pos2":66.1,"logp":-1.05,"logp2":-1.26},{"pos":71,"pos2":71.7,"logp":-1.05,"logp2":-1.26},{"pos":78.2,"pos2":78.6,"logp":-1.05,"logp2":-1.26},{"pos":79.9,"pos2":80.3,"logp":-1.05,"logp2":-1.26},{"pos":81.9,"pos2":82.4,"logp":-1.05,"logp2":-1.26},{"pos":83.7,"pos2":84.1,"logp":-1.05,"logp2":-1.26},{"pos":128.8,"pos2":129.5,"logp":-1.05,"logp2":-1.26},{"pos":146.9,"pos2":148.1,"logp":-1.05,"logp2":-1.26},{"pos":148.9,"pos2":149.6,"logp":-1.05,"logp2":-1.26},{"pos":154.2,"pos2":154.8,"logp":-1.05,"logp2":-1.26},{"pos":172.4,"pos2":173.9,"logp":-1.05,"logp2":-1.26},{"pos":184.2,"pos2":185,"logp":-1.05,"logp2":-1.26},{"pos":185.8,"pos2":186.2,"logp":-1.05,"logp2":-1.26},{"pos":208.9,"pos2":210.2,"logp":-1.05,"logp2":-1.26},{"pos":223.8,"pos2":224.8,"logp":-1.05,"logp2":-1.26},{"pos":228,"pos2":228.8,"logp":-1.05,"logp2":-1.26},{"pos":235.3,"pos2":235.9,"logp":-1.05,"logp2":-1.26}]},"encoding":{"x2":{"field":"pos2"},"y2":{"field":"logp2"}}},
{"mark":{"type":"rect","color":"#007f00"},"data":{"values":[{"pos":0,"pos2":237,"logp":-2.09,"logp2":-2.957}]},"encoding":{"x2":{"field":"pos2"},"y2":{"field":"logp2"}}},
{"mark":{"type":"area","orient":"horizontal","color":"white","opacity":1},"data":{"values":[
{"w":1,"pos":4.6,"pos2":9.54,"logp":-2.09},{"w":1,"pos":10.27,"pos2":10.27,"logp":-2.95},
{"w":2,"pos":13.75,"pos2":18.46,"logp":-2.09},{"w":2,"pos":19.27,"pos2":19.27,"logp":-2.95},
{"w":3,"pos":20.8,"pos2":36.46,"logp":-2.09},{"w":3,"pos":19.43,"pos2":19.43,"logp":-2.95},
{"w":4,"pos":37.03,"pos2":39.14,"logp":-2.09},{"w":4,"pos":21.46,"pos2":21.46,"logp":-2.93},
{"w":5,"pos":39.7,"pos2":41.73,"logp":-2.09},{"w":5,"pos":22.27,"pos2":22.27,"logp":-2.93},
{"w":6,"pos":42.14,"pos2":43.6,"logp":-2.09},{"w":6,"pos":23.5,"pos2":23.5,"logp":-2.9},
{"w":7,"pos":43.9,"pos2":45.46,"logp":-2.09},{"w":7,"pos":23.9,"pos2":23.9,"logp":-2.9},
{"w":8,"pos":45.8,"pos2":56.33,"logp":-2.09},{"w":8,"pos":24.7,"pos2":24.7,"logp":-2.9},
{"w":9,"pos":56.66,"pos2":61.2,"logp":-2.09},{"w":9,"pos":25.9,"pos2":25.9,"logp":-2.9},
{"w":10,"pos":74.8,"pos2":77.8,"logp":-2.09},{"w":10,"pos":44.6,"pos2":44.6,"logp":-2.9},
{"w":11,"pos":88.4,"pos2":90.6,"logp":-2.09},{"w":11,"pos":59.2,"pos2":59.2,"logp":-2.8},
{"w":12,"pos":102.6,"pos2":104.2,"logp":-2.09},{"w":12,"pos":72.6,"pos2":72.6,"logp":-2.8},
{"w":13,"pos":114.3,"pos2":115.1,"logp":-2.09},{"w":13,"pos":81.9,"pos2":81.9,"logp":-2.83},
{"w":14,"pos":145.7,"pos2":146.3,"logp":-2.09},{"w":14,"pos":127,"pos2":127,"logp":-2.75},
{"w":15,"pos":152.6,"pos2":153.4,"logp":-2.09},{"w":15,"pos":132.7,"pos2":132.7,"logp":-2.75},
{"w":16,"pos":172.6,"pos2":173.7,"logp":-2.09},{"w":16,"pos":155.4,"pos2":155.4,"logp":-2.83},
{"w":17,"pos":178.9,"pos2":179.7,"logp":-2.09},{"w":17,"pos":166,"pos2":166,"logp":-2.85},
{"w":18,"pos":210.6,"pos2":211.8,"logp":-2.09},{"w":18,"pos":217,"pos2":217,"logp":-2.87},
{"w":19,"pos":222.5,"pos2":232.1,"logp":-2.09},{"w":19,"pos":235.9,"pos2":235.9,"logp":-2.95},
{"w":20,"pos":232.6,"pos2":236.4,"logp":-2.09},{"w":20,"pos":236.2,"pos2":236.2,"logp":-2.95}
]},"encoding":{"x2":{"field":"pos2"},"detail":{"field":"w"}}},
{"mark":{"type":"rule","color":"#bfe3bf","strokeWidth":1.2},"data":{"values":[{"pos":2,"pos2":5.65,"logp":-2.09,"logp2":-2.9},{"pos":3.9,"pos2":8.9,"logp":-2.09,"logp2":-2.9},{"pos":196,"pos2":188.7,"logp":-2.09,"logp2":-2.9},{"pos":198.4,"pos2":191.9,"logp":-2.09,"logp2":-2.9},{"pos":200.8,"pos2":194.3,"logp":-2.09,"logp2":-2.9},{"pos":204.5,"pos2":205.7,"logp":-2.09,"logp2":-2.9},{"pos":207.3,"pos2":210.2,"logp":-2.09,"logp2":-2.9},{"pos":214.2,"pos2":219.5,"logp":-2.09,"logp2":-2.9},{"pos":202.5,"pos2":202.5,"logp":-2.09,"logp2":-2.8},{"pos":127.5,"pos2":107,"logp":-2.09,"logp2":-2.8},{"pos":138,"pos2":115,"logp":-2.09,"logp2":-2.8}]},"encoding":{"x2":{"field":"pos2"},"y2":{"field":"logp2"}}},
{"mark":{"type":"text","fontSize":13,"align":"left","baseline":"middle","color":"#222"},"data":{"values":[{"pos":1,"logp":-0.65,"t":"CsaV3_3G002930.1"},{"pos":10.5,"logp":-0.923,"t":"CsaV3_3G002940.1"},{"pos":31.7,"logp":-0.923,"t":"CsaV3_3G002950.1"},{"pos":34.3,"logp":-0.692,"t":"CsaV3_3G002960.1"},{"pos":54.9,"logp":-0.952,"t":"CsaV3_3G002970.1"},{"pos":66.9,"logp":-0.75,"t":"CsaV3_3G002980.1"},{"pos":119.1,"logp":-0.952,"t":"CsaV3_3G002990.1"},{"pos":136.1,"logp":-0.75,"t":"CsaV3_3G003000.1"},{"pos":149.5,"logp":-0.952,"t":"CsaV3_3G003010.1"},{"pos":159.9,"logp":-0.635,"t":"CsaV3_3G003020.1"},{"pos":170,"logp":-0.952,"t":"CsaV3_3G003030.1"},{"pos":176.1,"logp":-0.418,"t":"CsaV3_3G003040.1"},{"pos":197.2,"logp":-0.375,"t":"CsaV3_3G003050.1"},{"pos":207.1,"logp":-0.62,"t":"CsaV3_3G003060.1"},{"pos":211.2,"logp":-0.78,"t":"CsaV3_3G003070.1"},{"pos":216,"logp":-0.952,"t":"CsaV3_3G003080.1"},{"pos":231.2,"logp":-0.707,"t":"CsaV3_3G003090.1"}]},"encoding":{"text":{"field":"t"}}},
{"mark":{"type":"text","fontSize":18,"align":"left","baseline":"middle","color":"#111"},"data":{"values":[{"pos":-7,"logp":-0.433,"t":"Start:2.392"},{"pos":102.7,"logp":-0.678,"t":"chr3 Region:236.53 (kb)"},{"pos":226.9,"logp":-0.447,"t":"End:2.629 (Mb)"},{"pos":151,"logp":5.15,"t":"NAR_1572"},{"pos":126.1,"logp":-3.216,"t":"NAR_1572"}]},"encoding":{"text":{"field":"t"}}},
{"mark":{"type":"text","fontSize":106,"align":"center","baseline":"middle","color":"#111"},"data":{"values":[{"pos":-26.6,"logp":5.81,"t":"(a)"}]},"encoding":{"text":{"field":"t"}}}
]},
{"encoding":{
"x":{"field":"pos","type":"quantitative","title":null,"axis":null,"scale":{"domain":[0,237],"range":[259,1676],"nice":false,"zero":false}},
"y":{"field":"d","type":"quantitative","title":null,"axis":null,"scale":{"domain":[0,118.5],"range":[772,1479],"nice":false,"zero":false}}},
"layer":[
{"mark":{"type":"area","color":"#ff0000","orient":"vertical"},"data":{"values":[{"pos":0,"d":0,"d2":0},{"pos":118.5,"d":118.5,"d2":0},{"pos":237,"d":0,"d2":0}]},"encoding":{"y2":{"field":"d2"}}},
{"mark":{"type":"rule","strokeWidth":2},"data":{"values":[
{"pos":196,"d":0,"pos2":98,"d2":98,"D":0.92},{"pos":99,"d":0,"pos2":50,"d2":49,"D":0.94},{"pos":75,"d":0,"pos2":38,"d2":37,"D":0.95},{"pos":170,"d":30,"pos2":140,"d2":60,"D":0.95},{"pos":158,"d":50,"pos2":135,"d2":73,"D":0.95},
{"pos":100,"d":0,"pos2":166,"d2":66,"D":0.92},{"pos":195,"d":0,"pos2":215,"d2":20,"D":0.92},{"pos":137,"d":0,"pos2":185,"d2":50,"D":0.94},{"pos":65.5,"d":0,"pos2":110.5,"d2":45,"D":0.94},{"pos":40,"d":0,"pos2":75,"d2":35,"D":0.95},{"pos":80,"d":0,"pos2":140,"d2":60,"D":0.96},{"pos":115,"d":40,"pos2":155,"d2":80,"D":0.96},{"pos":160,"d":10,"pos2":190,"d2":40,"D":0.96}
]},"encoding":{"x2":{"field":"pos2"},"y2":{"field":"d2"},"color":{"field":"D","type":"quantitative","legend":null,"scale":{"domain":[0,0.25,0.5,0.75,1],"range":["#ffffff","#f9f7c0","#ece83a","#ff9020","#ff0000"]}}}},
{"mark":{"type":"rule","strokeWidth":4},"data":{"values":[
{"pos":23,"d":15,"pos2":98,"d2":90,"D":0.9},{"pos":27,"d":13,"pos2":124,"d2":110,"D":0.88},{"pos":31,"d":18,"pos2":84,"d2":70,"D":0.92},{"pos":122,"d":70,"pos2":102,"d2":90,"D":0.88},
{"pos":113.5,"d":70,"pos2":95.5,"d2":88,"D":0.86},{"pos":166,"d":30,"pos2":154,"d2":42,"D":0.82},
{"pos":129,"d":4,"pos2":119,"d2":14,"D":0.72},{"pos":131,"d":4,"pos2":120,"d2":15,"D":0.72},{"pos":98,"d":22,"pos2":90,"d2":30,"D":0.75},{"pos":100,"d":24,"pos2":93,"d2":31,"D":0.72}
]},"encoding":{"x2":{"field":"pos2"},"y2":{"field":"d2"},"color":{"field":"D","type":"quantitative","legend":null,"scale":{"domain":[0,0.25,0.5,0.75,1],"range":["#ffffff","#f9f7c0","#ece83a","#ff9020","#ff0000"]}}}},
{"mark":{"type":"rule","strokeWidth":7},"data":{"values":[
{"pos":76,"d":36,"pos2":56,"d2":56,"D":0.82},{"pos":78,"d":36,"pos2":57,"d2":57,"D":0.82},{"pos":80,"d":36,"pos2":58,"d2":58,"D":0.84},{"pos":82,"d":36,"pos2":59,"d2":59,"D":0.8},{"pos":84,"d":38,"pos2":61,"d2":59,"D":0.78},
{"pos":81.5,"d":41,"pos2":61.5,"d2":61,"D":0.45}
]},"encoding":{"x2":{"field":"pos2"},"y2":{"field":"d2"},"color":{"field":"D","type":"quantitative","legend":null,"scale":{"domain":[0,0.25,0.5,0.75,1],"range":["#ffffff","#f9f7c0","#ece83a","#ff9020","#ff0000"]}}}},
{"mark":{"type":"rule","strokeWidth":3},"data":{"values":[
{"pos":86,"d":45,"pos2":66,"d2":65,"D":0.55},{"pos":83,"d":42,"pos2":62.5,"d2":62.5,"D":0.72},{"pos":84,"d":43,"pos2":64,"d2":63,"D":0.68},{"pos":85,"d":44,"pos2":64.5,"d2":64.5,"D":0.74},{"pos":87,"d":46,"pos2":66.5,"d2":66.5,"D":0.72},{"pos":88,"d":47,"pos2":68,"d2":67,"D":0.74},{"pos":89,"d":48,"pos2":69,"d2":68,"D":0.76},{"pos":90,"d":49,"pos2":69.5,"d2":69.5,"D":0.78},{"pos":91,"d":50,"pos2":71,"d2":70,"D":0.8},{"pos":92,"d":51,"pos2":72,"d2":71,"D":0.82},
{"pos":123,"d":1,"pos2":117,"d2":7,"D":0.78},{"pos":125,"d":2,"pos2":118,"d2":9,"D":0.78},{"pos":127,"d":3,"pos2":118,"d2":12,"D":0.78},{"pos":133,"d":6,"pos2":124,"d2":15,"D":0.74},{"pos":131,"d":8,"pos2":124,"d2":15,"D":0.72},
{"pos":93,"d":18,"pos2":87,"d2":24,"D":0.8},{"pos":95,"d":19,"pos2":87,"d2":27,"D":0.78},{"pos":97,"d":20,"pos2":88,"d2":29,"D":0.75},{"pos":101,"d":25,"pos2":94,"d2":32,"D":0.72},{"pos":102,"d":27,"pos2":97,"d2":32,"D":0.72},{"pos":103,"d":28,"pos2":99,"d2":32,"D":0.7},
{"pos":106,"d":31,"pos2":101,"d2":36,"D":0.75},{"pos":108,"d":32,"pos2":102,"d2":38,"D":0.75},{"pos":110,"d":33,"pos2":103,"d2":40,"D":0.75},{"pos":111,"d":35,"pos2":106,"d2":40,"D":0.75}
]},"encoding":{"x2":{"field":"pos2"},"y2":{"field":"d2"},"color":{"field":"D","type":"quantitative","legend":null,"scale":{"domain":[0,0.25,0.5,0.75,1],"range":["#ffffff","#f9f7c0","#ece83a","#ff9020","#ff0000"]}}}},
{"mark":{"type":"rule","strokeWidth":2.5},"data":{"values":[{"pos":31,"d":12,"pos2":49,"d2":30,"D":0.6},{"pos":59,"d":40,"pos2":127.3,"d2":108,"D":0.7}]},"encoding":{"x2":{"field":"pos2"},"y2":{"field":"d2"},"color":{"field":"D","type":"quantitative","legend":null,"scale":{"domain":[0,0.25,0.5,0.75,1],"range":["#ffffff","#f9f7c0","#ece83a","#ff9020","#ff0000"]}}}},
{"mark":{"type":"rule","color":"#3a0000","strokeWidth":1.5},"data":{"values":[{"pos":19.2,"d":0,"pos2":127.3,"d2":108.7},{"pos":127.3,"d":108.7,"pos2":235.4,"d2":0.4},{"pos":19.2,"d":0,"pos2":9.6,"d2":9.8}]},"encoding":{"x2":{"field":"pos2"},"y2":{"field":"d2"}}},
{"mark":{"type":"rule","color":"#888888","strokeWidth":2},"data":{"values":[{"pos":0,"d":0,"pos2":237}]},"encoding":{"x2":{"field":"pos2"}}},
{"mark":{"type":"rect"},"data":{"values":[
{"pos":158.3,"pos2":162.5,"d":109.8,"d2":116.2,"D":0},{"pos":162.5,"pos2":166.6,"d":109.8,"d2":116.2,"D":0.1},{"pos":166.6,"pos2":170.8,"d":109.8,"d2":116.2,"D":0.15},{"pos":170.8,"pos2":174.9,"d":109.8,"d2":116.2,"D":0.2},{"pos":174.9,"pos2":179.1,"d":109.8,"d2":116.2,"D":0.25},{"pos":179.1,"pos2":183.2,"d":109.8,"d2":116.2,"D":0.3},{"pos":183.2,"pos2":187.4,"d":109.8,"d2":116.2,"D":0.35},{"pos":187.4,"pos2":191.5,"d":109.8,"d2":116.2,"D":0.4},{"pos":191.5,"pos2":195.7,"d":109.8,"d2":116.2,"D":0.45},{"pos":195.7,"pos2":199.9,"d":109.8,"d2":116.2,"D":0.5},{"pos":199.9,"pos2":204,"d":109.8,"d2":116.2,"D":0.55},{"pos":204,"pos2":208.2,"d":109.8,"d2":116.2,"D":0.6},{"pos":208.2,"pos2":212.3,"d":109.8,"d2":116.2,"D":0.66},{"pos":212.3,"pos2":216.5,"d":109.8,"d2":116.2,"D":0.72},{"pos":216.5,"pos2":220.6,"d":109.8,"d2":116.2,"D":0.78},{"pos":220.6,"pos2":224.8,"d":109.8,"d2":116.2,"D":0.83},{"pos":224.8,"pos2":228.9,"d":109.8,"d2":116.2,"D":0.88},{"pos":228.9,"pos2":233.1,"d":109.8,"d2":116.2,"D":0.93},{"pos":233.1,"pos2":237.2,"d":109.8,"d2":116.2,"D":0.97},{"pos":237.2,"pos2":241.4,"d":109.8,"d2":116.2,"D":1}
]},"encoding":{"x2":{"field":"pos2"},"y2":{"field":"d2"},"color":{"field":"D","type":"quantitative","legend":null,"scale":{"domain":[0,0.25,0.5,0.75,1],"range":["#ffffff","#f9f7c0","#ece83a","#ff9020","#ff0000"]}}}},
{"mark":{"type":"rule","color":"#444444","strokeWidth":2},"data":{"values":[{"pos":158.3,"pos2":241.4,"d":109.8},{"pos":158.3,"pos2":241.4,"d":116.2}]},"encoding":{"x2":{"field":"pos2"}}},
{"mark":{"type":"text","fontSize":32,"align":"center","baseline":"middle","color":"#111"},"data":{"values":[{"pos":158.3,"d":119.7,"t":"0.0"},{"pos":237.4,"d":119.7,"t":"1.0"},{"pos":197.8,"d":102.2,"t":"D' Color Key"}]},"encoding":{"text":{"field":"t"}}}
]},
{"encoding":{
"x":{"field":"vx","type":"quantitative","title":null,"axis":null,"scale":{"domain":[0,1300],"range":[2670,3970],"nice":false,"zero":false}},
"y":{"field":"vy","type":"quantitative","title":null,"axis":null,"scale":{"domain":[0,1200],"range":[150,1350],"nice":false,"zero":false}}},
"layer":[
{"mark":{"type":"point","filled":true,"size":960400,"fillOpacity":0.45,"stroke":"#000000","strokeWidth":2.5,"strokeOpacity":1},"data":{"values":[{"set":"LNT","vx":452,"vy":716},{"set":"LNS","vx":624,"vy":543},{"set":"hap_1","vx":666,"vy":543},{"set":"hap_2","vx":837,"vy":716}]},"encoding":{
"fill":{"field":"set","type":"nominal","legend":null,"scale":{"domain":["LNT","LNS","hap_1","hap_2"],"range":["#ffadc1","#face44","#18d9c7","#54c7ef"]}},
"shape":{"field":"set","type":"nominal","legend":null,"scale":{"domain":["LNT","LNS","hap_1","hap_2"],"range":["M-0.728,-0.728A1.03,0.689,45,1,0,0.728,0.728A1.03,0.689,45,1,0,-0.728,-0.728Z","M-0.728,-0.728A1.03,0.689,45,1,0,0.728,0.728A1.03,0.689,45,1,0,-0.728,-0.728Z","M-0.728,0.728A1.03,0.689,-45,1,0,0.728,-0.728A1.03,0.689,-45,1,0,-0.728,0.728Z","M-0.728,0.728A1.03,0.689,-45,1,0,0.728,-0.728A1.03,0.689,-45,1,0,-0.728,0.728Z"]}}}},
{"mark":{"type":"text","fontSize":44,"align":"center","baseline":"middle","color":"#111"},"data":{"values":[{"vx":130,"vy":551,"t":"4"},{"vx":388,"vy":205,"t":"4"},{"vx":905,"vy":205,"t":"39"},{"vx":647,"vy":291,"t":"3"},{"vx":260,"vy":378,"t":"0"},{"vx":1033,"vy":378,"t":"0"},{"vx":390,"vy":551,"t":"0"},{"vx":905,"vy":551,"t":"0"},{"vx":1161,"vy":551,"t":"2"},{"vx":647,"vy":722,"t":"0"},{"vx":303,"vy":808,"t":"7"},{"vx":995,"vy":808,"t":"1"},{"vx":475,"vy":911,"t":"0"},{"vx":818,"vy":911,"t":"0"},{"vx":647,"vy":1066,"t":"0"}]},"encoding":{"text":{"field":"t"}}},
{"mark":{"type":"text","fontSize":42,"fontWeight":"bold","align":"center","baseline":"middle","color":"#111"},"data":{"values":[{"vx":390,"vy":34,"t":"LNS"},{"vx":906,"vy":35,"t":"hap_1"},{"vx":-11,"vy":893,"t":"LNT"},{"vx":1326,"vy":893,"t":"hap_2"}]},"encoding":{"text":{"field":"t"}}},
{"mark":{"type":"text","fontSize":106,"align":"center","baseline":"middle","color":"#111"},"data":{"values":[{"vx":-218,"vy":144,"t":"(b)"}]},"encoding":{"text":{"field":"t"}}}
]},
{"encoding":{
"x":{"field":"col","type":"nominal","title":null,"axis":null,"sort":null,"scale":{"domain":["name","2456772","2456870","2456902","2457138","2457902","2463080","2463152"],"range":[262,2099],"paddingInner":0,"paddingOuter":0}},
"y":{"field":"row","type":"nominal","title":null,"axis":null,"sort":null,"scale":{"domain":["Position","Hap_1","Hap_2"],"range":[1877,2335],"paddingInner":0,"paddingOuter":0}}},
"data":{"values":[
{"col":"name","row":"Position","t":""},{"col":"name","row":"Hap_1","t":"Hap_1"},{"col":"name","row":"Hap_2","t":"Hap_2"},
{"col":"2456772","row":"Position","t":"2456772"},{"col":"2456772","row":"Hap_1","t":"G"},{"col":"2456772","row":"Hap_2","t":"T"},
{"col":"2456870","row":"Position","t":"2456870"},{"col":"2456870","row":"Hap_1","t":"C"},{"col":"2456870","row":"Hap_2","t":"T"},
{"col":"2456902","row":"Position","t":"2456902"},{"col":"2456902","row":"Hap_1","t":"T"},{"col":"2456902","row":"Hap_2","t":"C"},
{"col":"2457138","row":"Position","t":"2457138"},{"col":"2457138","row":"Hap_1","t":"A"},{"col":"2457138","row":"Hap_2","t":"G"},
{"col":"2457902","row":"Position","t":"2457902"},{"col":"2457902","row":"Hap_1","t":"G"},{"col":"2457902","row":"Hap_2","t":"A"},
{"col":"2463080","row":"Position","t":"2463080"},{"col":"2463080","row":"Hap_1","t":"T"},{"col":"2463080","row":"Hap_2","t":"C"},
{"col":"2463152","row":"Position","t":"2463152"},{"col":"2463152","row":"Hap_1","t":"C"},{"col":"2463152","row":"Hap_2","t":"A"}
]},
"layer":[
{"mark":{"type":"rect","stroke":"#c0c0c0","strokeWidth":2.5},"encoding":{"fill":{"field":"row","type":"nominal","legend":null,"scale":{"domain":["Position","Hap_1","Hap_2"],"range":["#ffffff","#ededed","#ffffff"]}}}},
{"mark":{"type":"text","fontSize":48,"align":"center","baseline":"middle","color":"#222222","dy":5},"encoding":{"text":{"field":"t"}}}
]},
{"encoding":{
"x":{"field":"u","type":"quantitative","title":null,"axis":null,"scale":{"domain":[0,2000],"range":[200,2200],"nice":false,"zero":false}},
"y":{"field":"v","type":"quantitative","title":null,"axis":null,"scale":{"domain":[0,900],"range":[1500,2400],"nice":false,"zero":false}}},
"layer":[
{"mark":{"type":"rect","color":{"gradient":"linear","x1":0,"y1":0,"x2":0,"y2":1,"stops":[{"offset":0,"color":"#aaaaaa"},{"offset":0.3,"color":"#222222"},{"offset":0.55,"color":"#000000"},{"offset":0.85,"color":"#222222"},{"offset":1,"color":"#aaaaaa"}]}},"data":{"values":[{"u":33,"u2":1898,"v":156,"v2":173},{"u":1587,"u2":1656,"v":28,"v2":43},{"u":1777,"u2":1897,"v":257,"v2":275}]},"encoding":{"x2":{"field":"u2"},"y2":{"field":"v2"}}},
{"mark":{"type":"rect","color":{"gradient":"linear","x1":0,"y1":0,"x2":0,"y2":1,"stops":[{"offset":0,"color":"#f8fbd8"},{"offset":0.12,"color":"#d4fab8"},{"offset":0.48,"color":"#a0e090"},{"offset":0.5,"color":"#4fa44e"},{"offset":1,"color":"#7ecb76"}]}},"data":{"values":[{"u":118,"u2":147,"v":117,"v2":211},{"u":175,"u2":218,"v":117,"v2":211},{"u":245,"u2":254,"v":117,"v2":211},{"u":258,"u2":427,"v":117,"v2":211},{"u":1586,"u2":1804,"v":117,"v2":211},{"u":1884,"u2":1924,"v":12,"v2":53}]},"encoding":{"x2":{"field":"u2"},"y2":{"field":"v2"}}},
{"mark":{"type":"rule","color":"#000000","strokeWidth":4},"data":{"values":[
{"u":44,"v":172,"u2":44,"v2":215},{"u":44,"v":215,"u2":317,"v2":377},
{"u":70,"v":172,"u2":70,"v2":215},{"u":70,"v":215,"u2":546,"v2":377},
{"u":76,"v":172,"u2":76,"v2":215},{"u":76,"v":215,"u2":931,"v2":377},
{"u":138,"v":172,"u2":138,"v2":215},{"u":138,"v":215,"u2":1172,"v2":377},
{"u":332,"v":172,"u2":332,"v2":215},{"u":332,"v":215,"u2":1375,"v2":377},
{"u":1644,"v":170,"u2":1644,"v2":215},{"u":1644,"v":215,"u2":1490,"v2":377},
{"u":1663,"v":170,"u2":1663,"v2":215},{"u":1663,"v":215,"u2":1738,"v2":377}
]},"encoding":{"x2":{"field":"u2"},"y2":{"field":"v2"}}},
{"mark":{"type":"text","fontSize":40,"align":"left","baseline":"middle","color":"#444444"},"data":{"values":[{"u":1684,"v":36,"t":"Intron"},{"u":1946,"v":36,"t":"CDS"}]},"encoding":{"text":{"field":"t"}}},
{"mark":{"type":"text","fontSize":38,"align":"center","baseline":"middle","color":"#444444"},"data":{"values":[{"u":1841,"v":318,"t":"500bp"}]},"encoding":{"text":{"field":"t"}}},
{"mark":{"type":"text","fontSize":106,"align":"center","baseline":"middle","color":"#111"},"data":{"values":[{"u":-36,"v":65,"t":"(c)"}]},"encoding":{"text":{"field":"t"}}}
]},
{"encoding":{
"x":{"field":"slot","type":"quantitative","title":null,"scale":{"domain":[0.34,2.675],"range":[3110,3605],"nice":false,"zero":false},"axis":{"orient":"bottom","offset":-126,"values":[1,2],"labelExpr":"datum.value==1?'Hap_1':'Hap_2'","domainWidth":7,"domainColor":"#000","tickSize":30,"tickWidth":7,"tickColor":"#000","labelFontSize":53,"labelFontWeight":"bold","labelColor":"#000","labelPadding":18}},
"y":{"field":"dwr","type":"quantitative","title":"Value of DWR","scale":{"domain":[0.4,0.9],"range":[2264,1523],"nice":false,"zero":false},"axis":{"orient":"left","offset":-3110,"values":[0.4,0.5,0.6,0.7,0.8,0.9],"format":".1f","domainWidth":7,"domainColor":"#000","tickSize":30,"tickWidth":7,"tickColor":"#000","labelFontSize":54,"labelFontWeight":"bold","labelColor":"#000","labelPadding":8,"titleFontSize":61,"titleFontWeight":"bold","titleColor":"#000","titlePadding":27}}},
"layer":[
{"mark":{"type":"rule","color":"#000","strokeWidth":12},"data":{"values":[{"slot":1,"dwr":0.8157,"dwr2":0.506},{"slot":2,"dwr":0.7016,"dwr2":0.5235}]},"encoding":{"y2":{"field":"dwr2"}}},
{"mark":{"type":"rect","fill":"#ffffff","stroke":"#000","strokeWidth":10},"data":{"values":[{"slot":0.7,"slot2":1.3,"dwr":0.617,"dwr2":0.7205}]},"encoding":{"x2":{"field":"slot2"},"y2":{"field":"dwr2"}}},
{"mark":{"type":"rule","color":"#000","strokeWidth":10},"data":{"values":[{"slot":0.7,"slot2":1.3,"dwr":0.6787},{"slot":0.835,"slot2":1.17,"dwr":0.8157},{"slot":0.835,"slot2":1.17,"dwr":0.506},{"slot":1.835,"slot2":2.165,"dwr":0.7016},{"slot":1.835,"slot2":2.165,"dwr":0.5235}]},"encoding":{"x2":{"field":"slot2"}}},
{"mark":{"type":"rule","color":"#000","strokeWidth":12},"data":{"values":[{"slot":1,"dwr":0.7205,"dwr2":0.8157},{"slot":1,"dwr":0.506,"dwr2":0.617}]},"encoding":{"y2":{"field":"dwr2"}}},
{"mark":{"type":"rect","color":"#000"},"data":{"values":[{"slot":1.665,"slot2":2.33,"dwr":0.664,"dwr2":0.679}]},"encoding":{"x2":{"field":"slot2"},"y2":{"field":"dwr2"}}},
{"mark":{"type":"circle","size":324,"color":"#000","opacity":1},"data":{"values":[
{"slot":1,"dwr":0.8167},{"slot":1,"dwr":0.7934},{"slot":1,"dwr":0.7643},{"slot":1,"dwr":0.7353},{"slot":1,"dwr":0.71},{"slot":1,"dwr":0.692},{"slot":1,"dwr":0.677},{"slot":1,"dwr":0.667},{"slot":1,"dwr":0.653},{"slot":1,"dwr":0.631},{"slot":1,"dwr":0.611},{"slot":1,"dwr":0.594},{"slot":1,"dwr":0.555},
{"slot":1.149,"dwr":0.8},{"slot":1.149,"dwr":0.737},{"slot":1.149,"dwr":0.7275},{"slot":1.149,"dwr":0.716},{"slot":1.149,"dwr":0.7},{"slot":1.149,"dwr":0.684},{"slot":1.149,"dwr":0.671},{"slot":1.149,"dwr":0.66},{"slot":1.149,"dwr":0.6345},{"slot":1.149,"dwr":0.621},{"slot":1.149,"dwr":0.609},{"slot":1.149,"dwr":0.576},{"slot":1.149,"dwr":0.564},
{"slot":1.074,"dwr":0.7837},{"slot":0.926,"dwr":0.782},{"slot":0.93,"dwr":0.5054},{"slot":1.074,"dwr":0.5078},
{"slot":0.854,"dwr":0.736},{"slot":0.854,"dwr":0.7217},{"slot":0.854,"dwr":0.71},{"slot":0.854,"dwr":0.7},{"slot":0.854,"dwr":0.686},{"slot":0.854,"dwr":0.674},{"slot":0.854,"dwr":0.656},{"slot":0.854,"dwr":0.6275},{"slot":0.854,"dwr":0.611},{"slot":0.854,"dwr":0.578},{"slot":0.854,"dwr":0.567},
{"slot":0.703,"dwr":0.741},{"slot":0.703,"dwr":0.6376},{"slot":0.703,"dwr":0.6105},
{"slot":1.3,"dwr":0.738},{"slot":1.3,"dwr":0.72},{"slot":1.3,"dwr":0.706},{"slot":1.3,"dwr":0.6965},{"slot":1.3,"dwr":0.6105},
{"slot":2,"dwr":0.704},{"slot":2,"dwr":0.522},{"slot":2,"dwr":0.672}
]}},
{"mark":{"type":"text","fontSize":56,"align":"center","baseline":"middle","color":"#111"},"data":{"values":[{"slot":1,"dwr":0.847,"t":"a"},{"slot":1.99,"dwr":0.733,"t":"a"}]},"encoding":{"text":{"field":"t"}}},
{"mark":{"type":"text","fontSize":106,"align":"center","baseline":"middle","color":"#111"},"data":{"values":[{"slot":-1.59,"dwr":0.882,"t":"(d)"}]},"encoding":{"text":{"field":"t"}}}
]}
]
}
